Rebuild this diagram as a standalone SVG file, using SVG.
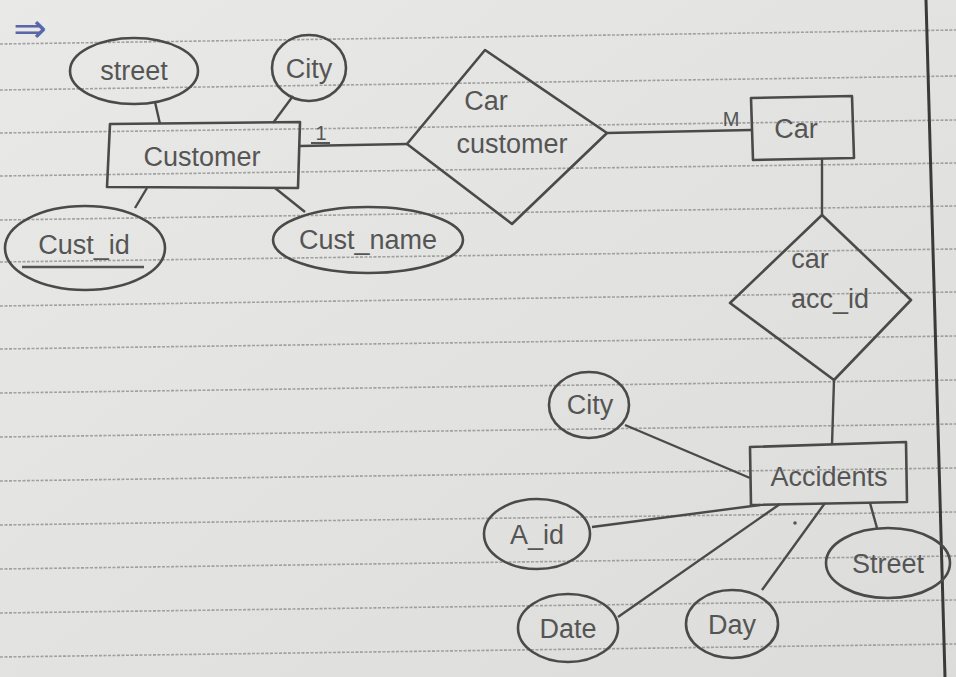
<svg xmlns="http://www.w3.org/2000/svg" width="956" height="677" viewBox="0 0 956 677">
<defs>
<linearGradient id="paper" x1="0" y1="0" x2="1" y2="1">
<stop offset="0" stop-color="#e9e9e7"/>
<stop offset="1" stop-color="#dcdcda"/>
</linearGradient>
</defs>
<style>
.rule{stroke:#8a8a8a;stroke-width:1.6;stroke-dasharray:3 1.5;fill:none;opacity:.75}
.sh{fill:none;stroke:#4a4a4a;stroke-width:2.6;stroke-linejoin:round}
.ln{stroke:#4a4a4a;stroke-width:2.4;fill:none}
.t{font-family:"Liberation Sans",Arial,sans-serif;font-size:27px;fill:#555;text-anchor:middle}
.lbl{font-family:"Liberation Sans",Arial,sans-serif;font-size:20px;fill:#555;text-anchor:middle}
</style>
<rect width="956" height="677" fill="url(#paper)"/>
<g id="paper-rules">
<line class="rule" x1="0" y1="44" x2="956" y2="30"/>
<line class="rule" x1="0" y1="90" x2="956" y2="76"/>
<line class="rule" x1="0" y1="133" x2="956" y2="120"/>
<line class="rule" x1="0" y1="176" x2="956" y2="163"/>
<line class="rule" x1="0" y1="220" x2="956" y2="206"/>
<line class="rule" x1="0" y1="262" x2="956" y2="249"/>
<line class="rule" x1="0" y1="306" x2="956" y2="292"/>
<line class="rule" x1="0" y1="349" x2="956" y2="336"/>
<line class="rule" x1="0" y1="393" x2="956" y2="380"/>
<line class="rule" x1="0" y1="437" x2="956" y2="424"/>
<line class="rule" x1="0" y1="481" x2="956" y2="468"/>
<line class="rule" x1="0" y1="525" x2="956" y2="512"/>
<line class="rule" x1="0" y1="569" x2="956" y2="556"/>
<line class="rule" x1="0" y1="613" x2="956" y2="600"/>
<line class="rule" x1="0" y1="657" x2="956" y2="644"/>
<line x1="926" y1="0" x2="945" y2="677" stroke="#3a3a3a" stroke-width="3"/>
</g>
<text x="30" y="42" font-family="DejaVu Sans,sans-serif" font-size="40" fill="#5a66a8" text-anchor="middle">⇒</text>
<g id="connectors">
<line class="ln" x1="155" y1="102" x2="160" y2="124"/>
<line class="ln" x1="293" y1="96" x2="273" y2="123"/>
<line class="ln" x1="147" y1="188" x2="135" y2="208"/>
<line class="ln" x1="275" y1="188" x2="305" y2="212"/>
<line class="ln" x1="300" y1="146" x2="407" y2="144"/>
<line class="ln" x1="607" y1="133" x2="751" y2="130"/>
<line class="ln" x1="822" y1="159" x2="822" y2="215"/>
<line class="ln" x1="834" y1="380" x2="832" y2="445"/>
<line class="ln" x1="625" y1="425" x2="750" y2="478"/>
<line class="ln" x1="592" y1="527" x2="760" y2="505"/>
<line class="ln" x1="618" y1="617" x2="780" y2="504"/>
<line class="ln" x1="762" y1="590" x2="825" y2="503"/>
<line class="ln" x1="870" y1="503" x2="877" y2="528"/>
<text class="lbl" x="321" y="140">1</text>
<line x1="311" y1="143" x2="330" y2="143" stroke="#555" stroke-width="2"/>
<text class="lbl" x="731" y="126">M</text>
</g>
<g id="customer">
<polygon class="sh" points="110,124 300,122 298,188 107,187"/>
<text class="t" x="202" y="166">Customer</text>
</g>
<g id="attr-street">
<ellipse class="sh" cx="134" cy="71" rx="64" ry="33"/>
<text class="t" x="134" y="80">street</text>
</g>
<g id="attr-city">
<ellipse class="sh" cx="309" cy="68" rx="37" ry="33"/>
<text class="t" x="309" y="78">City</text>
</g>
<g id="attr-cust_id">
<ellipse class="sh" cx="85" cy="248" rx="80" ry="42"/>
<text class="t" x="84" y="254">Cust_id</text>
<line x1="22" y1="267" x2="144" y2="267" stroke="#555" stroke-width="2.5"/>
</g>
<g id="attr-cust_name">
<ellipse class="sh" cx="368" cy="240" rx="95" ry="33"/>
<text class="t" x="368" y="249">Cust_name</text>
</g>
<g id="car-customer">
<polygon class="sh" points="485,50 607,133 512,224 407,144"/>
<text class="t" x="486" y="110">Car</text>
<text class="t" x="512" y="153">customer</text>
</g>
<g id="car">
<polygon class="sh" points="751,98 852,96 854,158 753,160"/>
<text class="t" x="796" y="138">Car</text>
</g>
<g id="car-acc-id">
<polygon class="sh" points="822,215 911,300 834,380 730,303"/>
<text class="t" x="810" y="268">car</text>
<text class="t" x="830" y="308">acc_id</text>
</g>
<g id="accidents">
<polygon class="sh" points="750,447 906,442 907,502 751,505"/>
<text class="t" x="829" y="486">Accidents</text>
</g>
<g id="attr-city2">
<ellipse class="sh" cx="589" cy="405" rx="40" ry="33"/>
<text class="t" x="590" y="414">City</text>
</g>
<g id="attr-a_id">
<ellipse class="sh" cx="537" cy="534" rx="53" ry="35"/>
<text class="t" x="537" y="544">A_id</text>
</g>
<g id="attr-date">
<ellipse class="sh" cx="568" cy="628" rx="50" ry="34"/>
<text class="t" x="568" y="638">Date</text>
</g>
<g id="attr-day">
<ellipse class="sh" cx="732" cy="624" rx="46" ry="34"/>
<text class="t" x="732" y="634">Day</text>
</g>
<g id="attr-street2">
<ellipse class="sh" cx="888" cy="563" rx="62" ry="35"/>
<text class="t" x="888" y="573">Street</text>
</g>
<circle cx="795" cy="523" r="1.8" fill="#555"/>
</svg>
